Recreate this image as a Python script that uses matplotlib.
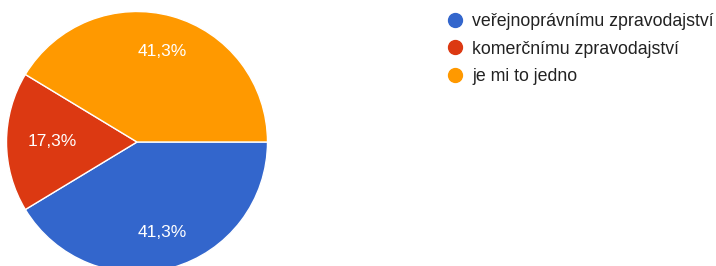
import matplotlib.pyplot as plt
from matplotlib.lines import Line2D

plt.rcParams['font.family'] = ['Liberation Sans', 'DejaVu Sans']

labels = ["veřejnoprávnímu zpravodajství", "komerčnímu zpravodajství", "je mi to jedno"]
values = [41.3, 17.3, 41.3]
colors = ["#3366CC", "#DC3912", "#FF9900"]

W, H = 716, 266
fig = plt.figure(figsize=(W / 100, H / 100), dpi=100)

# pie axes: centre ~ (137, 142) px, radius ~130 px (bottom is clipped)
cx, cy, r = 137, 142, 130.5
ax = fig.add_axes([(cx - r) / W, (H - cy - r) / H, 2 * r / W, 2 * r / H])

wedges, texts, autotexts = ax.pie(
    values,
    colors=colors,
    startangle=0,
    counterclock=False,
    autopct=lambda p: f"{p:.1f}".replace(".", ",") + "%",
    pctdistance=0.72,
    wedgeprops=dict(edgecolor="white", linewidth=1),
    textprops=dict(color="white", fontsize=12.5),
)
# the small slice's label sits a bit closer to the centre
x, y = autotexts[1].get_position()
autotexts[1].set_position((x * 0.9, y * 0.9))
ax.set_xlim(-1, 1)
ax.set_ylim(-1, 1)

handles = [
    Line2D([], [], marker="o", linestyle="", markersize=10,
           markerfacecolor=c, markeredgecolor=c)
    for c in colors
]
fig.legend(
    handles, labels,
    loc="upper left",
    bbox_to_anchor=(448 / W, 1 - 13 / H),
    frameon=False,
    fontsize=12.8,
    labelspacing=0.6,
    handlelength=0.8,
    handletextpad=0.56,
    borderpad=0,
    borderaxespad=0,
    labelcolor="#222222",
)

fig.savefig("out.png", dpi=100)
